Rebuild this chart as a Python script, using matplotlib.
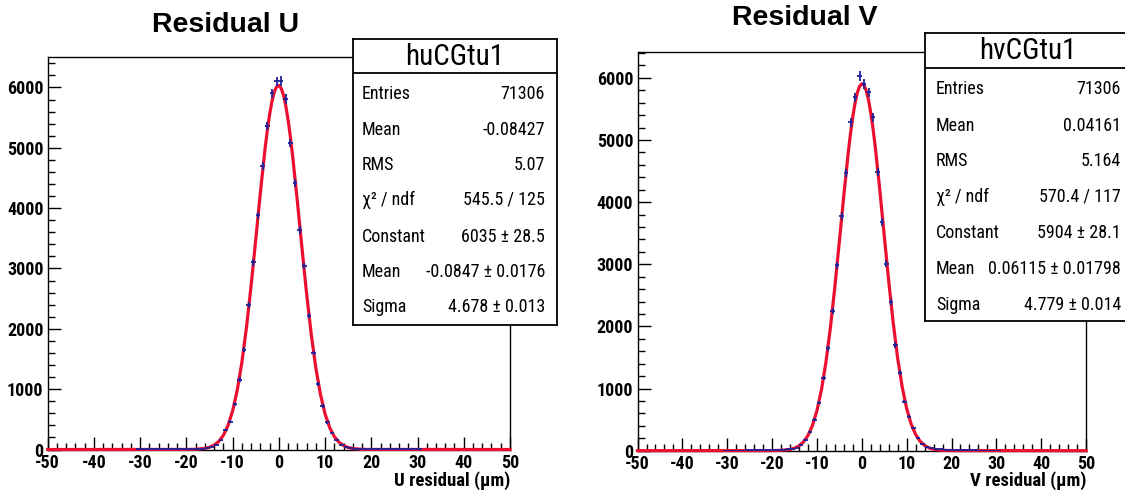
import numpy as np
import matplotlib.pyplot as plt
from matplotlib.ticker import MultipleLocator

narrow = ['Liberation Sans Narrow', 'Roboto Condensed', 'Fira Sans Condensed',
          'Liberation Sans', 'DejaVu Sans']
plt.rcParams['font.family'] = narrow
plt.rcParams['font.weight'] = 'bold'
plt.rcParams['axes.unicode_minus'] = False

# histogram bins, 1 um wide, non-empty range -30.5 .. 30.5
bin_x = np.arange(-30.5, 31, 1.0)

counts_u = [1, 1, 1, 1, 1, 2, 1, 2, 2, 2,
            3, 3, 4, 5, 10, 20, 40, 80, 150, 330, 460, 750, 1160, 1650, 2390,
            3100, 3880, 4700, 5360, 5900, 6100,
            6110, 5810, 5080, 4410, 3640, 3040, 2220, 1600, 1080, 720, 450,
            280, 150, 80, 40, 22, 12, 8, 5, 4, 3,
            2, 2, 2, 1, 2, 1, 1, 1, 1, 1]

counts_v = [2, 2, 3, 3, 3, 4, 5, 5, 6, 8,
            10, 12, 15, 18, 22, 30, 45, 90, 176, 294, 497, 775, 1166, 1647, 2251,
            2984, 3775, 4465, 5283, 5684, 6032,
            5899, 5765, 5364, 4481, 3679, 3011, 2396, 1701, 1257, 791, 550,
            364, 200, 105, 55, 38, 30, 22, 16, 12, 10,
            8, 6, 5, 5, 4, 3, 3, 2, 2, 2]

# gaussian fit curves
fit_x = [-50, -20, -18, -16, -15, -14, -13, -12, -11, -10, -9, -8, -7, -6, -5, -4, -3,
         -2.5, -2, -1.5, -1, -0.5, 0, 0.5, 1, 1.5, 2, 2.5,
         3, 4, 5, 6, 7, 8, 9, 10, 11, 12, 13, 14, 15, 16, 18, 20, 50]
fit_u = [0, 1, 4, 19, 37, 72, 134, 235, 397, 639, 982, 1442, 2024, 2714, 3476, 4252, 4970,
         5283, 5550, 5765, 5921, 6011, 6034, 5988, 5875, 5698, 5465, 5181,
         4856, 4122, 3343, 2590, 1917, 1355, 916, 591, 364, 214, 121, 65, 33, 16, 3, 1, 0]
fit_v = [0, 2, 6, 21, 41, 78, 141, 245, 406, 644, 979, 1423, 1982, 2642, 3370, 4115, 4809,
         5114, 5380, 5597, 5761, 5863, 5904, 5879, 5791, 5642, 5438, 5184,
         4887, 4204, 3461, 2728, 2058, 1485, 1027, 679, 430, 261, 151, 84, 45, 23, 6, 2, 0]

stat_names = ['Entries', 'Mean', 'RMS', 'χ² / ndf', 'Constant', 'Mean', 'Sigma']
stat_u = ['71306', '-0.08427', '5.07', '545.5 / 125', '6035 ± 28.5',
          '-0.0847 ± 0.0176', '4.678 ± 0.013']
stat_v = ['71306', '0.04161', '5.164', '570.4 / 117', '5904 ± 28.1',
          '0.06115 ± 0.01798', '4.779 ± 0.014']

fig = plt.figure(figsize=(11.25, 4.93), dpi=100)


def draw_hist(ax, counts, fit, ymax, xlabel, label_y):
    counts = np.array(counts, dtype=float)
    ax.plot(fit_x, fit, color='#ec1030', lw=2.3, zorder=3, clip_on=False)
    ax.errorbar(bin_x, counts, xerr=0.5, yerr=np.sqrt(counts), fmt='none',
                ecolor='#22229a', elinewidth=1.3, capsize=0, zorder=4)
    ax.set_xlim(-50, 50)
    ax.set_ylim(0, ymax)
    ax.xaxis.set_major_locator(MultipleLocator(10))
    ax.xaxis.set_minor_locator(MultipleLocator(2))
    ax.yaxis.set_major_locator(MultipleLocator(1000))
    ax.yaxis.set_minor_locator(MultipleLocator(200))
    ax.tick_params(which='both', direction='in', labelsize=13, width=1)
    ax.tick_params(which='major', length=9.5)
    ax.tick_params(which='minor', length=5)
    ax.tick_params(axis='x', pad=3)
    ax.tick_params(axis='y', pad=3)
    for s in ax.spines.values():
        s.set_linewidth(1.0)
    ax.text(1.0, label_y, xlabel, transform=ax.transAxes, ha='right', va='center',
            fontsize=13.5)


def draw_stats(rect, name, values, div_y, name_y, row_y, x_left, x_right):
    bx = fig.add_axes(rect)
    bx.set_xticks([])
    bx.set_yticks([])
    bx.set_xlim(0, 1)
    bx.set_ylim(0, 1)
    for s in bx.spines.values():
        s.set_linewidth(1.3)
    bx.axhline(div_y, color='black', lw=1.3)
    bx.text(0.5, name_y, name, ha='center', va='center', fontsize=21,
            fontweight='normal')
    for y, lab, val in zip(row_y, stat_names, values):
        bx.text(x_left, y, lab, ha='left', va='center', fontsize=13,
                fontweight='normal')
        bx.text(x_right, y, val, ha='right', va='center', fontsize=13,
                fontweight='normal')


ax1 = fig.add_axes([0.0424, 0.0882, 0.4109, 0.7956])
draw_hist(ax1, counts_u, fit_u, 6500, 'U residual (μm)', -0.080)

ax2 = fig.add_axes([0.5667, 0.0858, 0.3987, 0.8093])
draw_hist(ax2, counts_v, fit_v, 6420, 'V residual (μm)', -0.076)

rows_u = [(325 - y) / 285.7 for y in [94, 130, 165, 200, 237, 272, 307]]
draw_stats([0.3140, 0.3408, 0.1808, 0.5795], 'huCGtu1', stat_u,
           0.881, 0.938, rows_u, 0.043, 0.9425)

rows_v = [(321 - y) / 287.7 for y in [89, 126, 161, 197, 233, 269, 305]]
draw_stats([0.8222, 0.3489, 0.1822, 0.5836], 'hvCGtu1', stat_v,
           0.878, 0.940, rows_v, 0.054, 0.956)

fig.text(0.2009, 0.9493, 'Residual U', ha='center', va='center', fontsize=20.5,
         family=['Liberation Sans', 'DejaVu Sans'], fontweight='bold')
fig.text(0.7156, 0.9635, 'Residual V', ha='center', va='center', fontsize=20.5,
         family=['Liberation Sans', 'DejaVu Sans'], fontweight='bold')

fig.savefig('out.png', dpi=100)
